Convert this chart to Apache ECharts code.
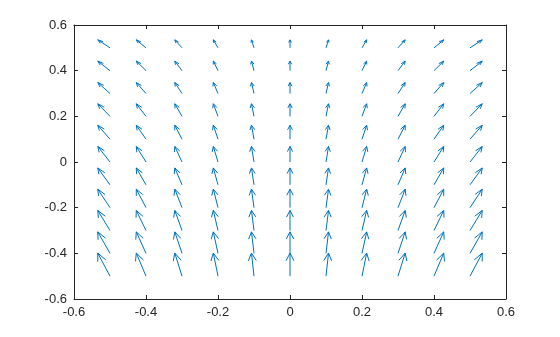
<!DOCTYPE html>
<html>
<head>
<meta charset="utf-8">
<script src="https://cdn.jsdelivr.net/npm/echarts@6/dist/echarts.min.js"></script>
<style>html,body{margin:0;padding:0;background:#fff;}#c{width:560px;height:337px;}</style>
</head>
<body>
<div id="c"></div>
<script>
// Grid positions of the arrow tails
const xGrid = [-0.5, -0.4, -0.3, -0.2, -0.1, 0, 0.1, 0.2, 0.3, 0.4, 0.5];
const yGrid = [-0.5, -0.4, -0.3, -0.2, -0.1, 0, 0.1, 0.2, 0.3, 0.4, 0.5];
// Horizontal arrow components (data units), read per column
const uByColumn = [-0.034, -0.027, -0.020, -0.013, -0.007, 0, 0.007, 0.013, 0.020, 0.027, 0.034];
// Vertical arrow components (data units), read per row (bottom to top)
const vByRow = [0.101, 0.094, 0.088, 0.081, 0.074, 0.068, 0.061, 0.055, 0.048, 0.042, 0.035];
// Tick labels
const xTicks = [-0.6, -0.4, -0.2, 0, 0.2, 0.4, 0.6];
const yTicks = [-0.6, -0.4, -0.2, 0, 0.2, 0.4, 0.6];

const arrows = [];
for (let i = 0; i < yGrid.length; i++) {
  for (let j = 0; j < xGrid.length; j++) {
    arrows.push([xGrid[j], yGrid[i], uByColumn[j], vByRow[i]]);
  }
}

const COLOR = '#0072BD';
const AX = '#262626';
const FONT = 'Liberation Sans, Arial, Helvetica, sans-serif';

function renderArrow(params, api) {
  const x = api.value(0), y = api.value(1), u = api.value(2), v = api.value(3);
  const alpha = 0.33, beta = 0.33;
  const p0 = api.coord([x, y]);
  const p1 = api.coord([x + u, y + v]);
  const h1 = api.coord([x + u - alpha * (u + beta * v), y + v - alpha * (v - beta * u)]);
  const h2 = api.coord([x + u - alpha * (u - beta * v), y + v - alpha * (v + beta * u)]);
  const style = { stroke: COLOR, lineWidth: 1, fill: null };
  return {
    type: 'group',
    children: [
      { type: 'line', shape: { x1: p0[0], y1: p0[1], x2: p1[0], y2: p1[1] }, style: style },
      { type: 'polyline', shape: { points: [h1, p1, h2] }, style: style }
    ]
  };
}

const fmt = v => {
  const r = Math.round(v * 10) / 10;
  return r === 0 ? '0' : String(r);
};

const axisCommon = {
  type: 'value',
  interval: 0.2,
  axisLine: { show: true, onZero: false, lineStyle: { color: AX, width: 1 } },
  axisTick: { show: true, inside: true, length: 4, lineStyle: { color: AX } },
  splitLine: { show: false },
  axisLabel: { color: AX, fontSize: 13, fontFamily: FONT, formatter: fmt }
};

const chart = echarts.init(document.getElementById('c'), null, { renderer: 'canvas' });
chart.setOption({
  animation: false,
  backgroundColor: '#fff',
  grid: { left: 74, right: 54, top: 25, bottom: 38, containLabel: false },
  xAxis: [
    Object.assign({}, axisCommon, { min: xTicks[0], max: xTicks[xTicks.length - 1], position: 'bottom',
      axisLabel: Object.assign({}, axisCommon.axisLabel, { margin: 7 }) }),
    Object.assign({}, axisCommon, { min: xTicks[0], max: xTicks[xTicks.length - 1], position: 'top',
      axisLabel: { show: false } })
  ],
  yAxis: [
    Object.assign({}, axisCommon, { min: yTicks[0], max: yTicks[yTicks.length - 1], position: 'left',
      axisLabel: Object.assign({}, axisCommon.axisLabel, { margin: 7 }) }),
    Object.assign({}, axisCommon, { min: yTicks[0], max: yTicks[yTicks.length - 1], position: 'right',
      axisLabel: { show: false } })
  ],
  series: [{
    type: 'custom',
    xAxisIndex: 0,
    yAxisIndex: 0,
    renderItem: renderArrow,
    encode: { x: 0, y: 1 },
    data: arrows,
    clip: false,
    silent: true
  }]
});
</script>
</body>
</html>
